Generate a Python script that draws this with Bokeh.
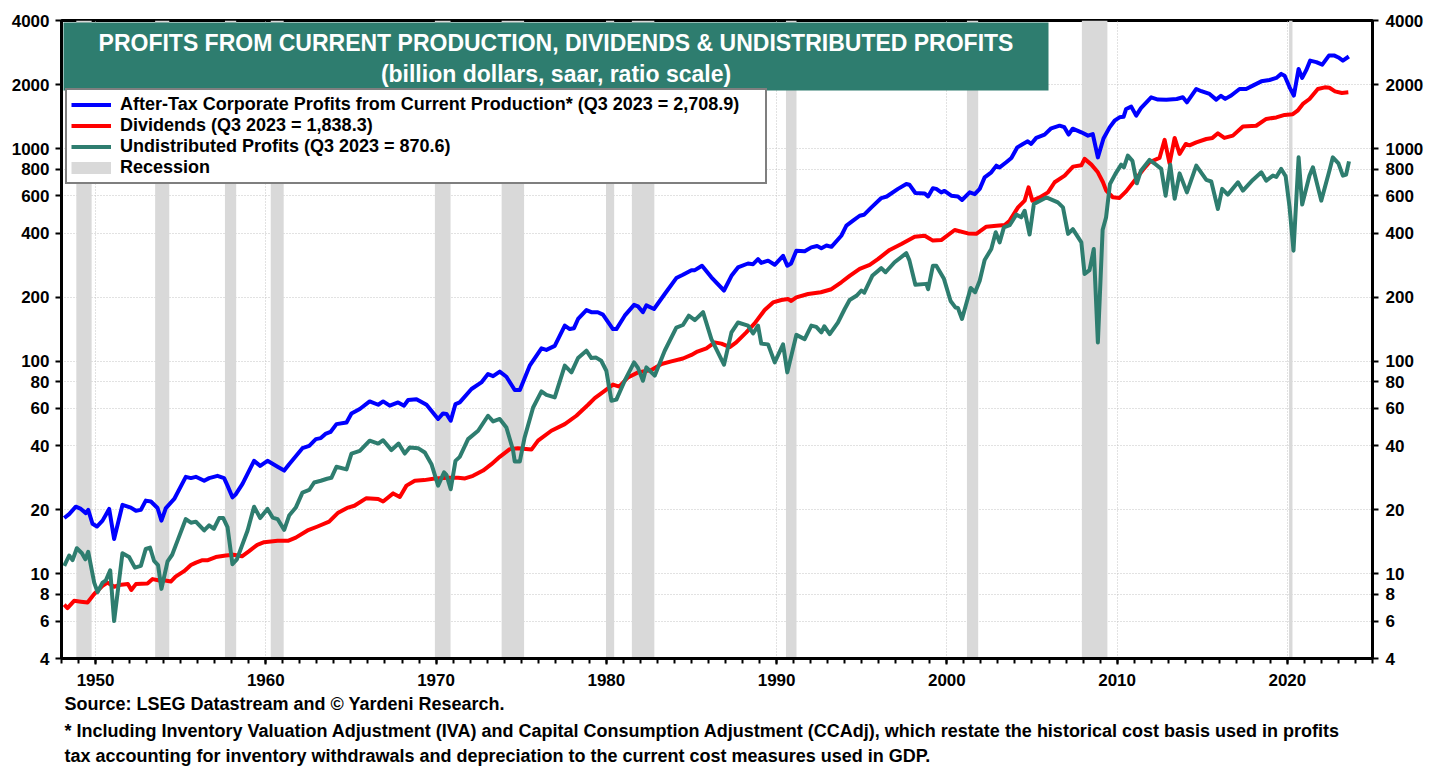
from bokeh.plotting import figure
from bokeh.models import (Range1d, LogAxis, FixedTicker, NumeralTickFormatter, Legend,
                          LegendItem, BoxAnnotation, Label, Title)
from bokeh.embed import file_html
from bokeh.resources import INLINE

# ---------------- data ----------------
profits_x = [1948.16, 1948.45, 1948.84, 1949.14, 1949.43, 1949.57, 1949.82, 1950.08, 1950.41, 1950.80,
             1951.09, 1951.58, 1952.07, 1952.37, 1952.66, 1952.95, 1953.25, 1953.64, 1953.87, 1954.13,
             1954.62, 1955.30, 1955.60, 1955.89, 1956.38, 1956.67, 1957.16, 1957.55, 1957.75, 1958.04,
             1958.24, 1958.63, 1959.31, 1959.67, 1960.10, 1960.69, 1961.08, 1961.37, 1962.15, 1962.55,
             1962.94, 1963.23, 1963.50, 1963.80, 1964.15, 1964.74, 1965.03, 1965.52, 1966.10, 1966.60,
             1966.89, 1967.28, 1967.77, 1968.12, 1968.36, 1968.85, 1969.44, 1970.12, 1970.41, 1970.61,
             1970.86, 1971.14, 1971.39, 1972.08, 1972.66, 1973.05, 1973.35, 1973.74, 1974.13, 1974.62,
             1974.92, 1975.50, 1976.19, 1976.48, 1976.97, 1977.56, 1977.85, 1978.10, 1978.34, 1978.83,
             1979.12, 1979.50, 1979.80, 1980.39, 1980.59, 1981.08, 1981.63, 1981.86, 1982.15, 1982.35,
             1982.80, 1983.43, 1984.11, 1984.50, 1985.00, 1985.20, 1985.62, 1986.17, 1986.91, 1987.35,
             1987.73, 1988.32, 1988.62, 1988.91, 1989.10, 1989.50, 1989.89, 1990.38, 1990.63, 1990.85,
             1991.16, 1991.65, 1992.04, 1992.38, 1992.63, 1992.93, 1993.22, 1993.80, 1994.10, 1994.49,
             1994.88, 1995.13, 1995.57, 1996.15, 1996.47, 1997.13, 1997.62, 1997.80, 1998.15, 1998.70,
             1998.90, 1999.18, 1999.38, 1999.67, 1999.86, 2000.26, 2000.65, 2000.89, 2001.34, 2001.64,
             2001.93, 2002.22, 2002.61, 2002.91, 2003.10, 2003.49, 2003.79, 2004.14, 2004.47, 2004.75,
             2004.95, 2005.25, 2005.74, 2006.13, 2006.62, 2006.90, 2007.15, 2007.39, 2007.90, 2008.29,
             2008.57, 2008.87, 2009.20, 2009.56, 2009.85, 2010.14, 2010.38, 2010.53, 2010.83, 2011.12,
             2011.40, 2012.00, 2012.40, 2012.89, 2013.50, 2013.86, 2014.10, 2014.65, 2014.95, 2015.43,
             2015.82, 2016.10, 2016.35, 2016.70, 2017.19, 2017.58, 2017.97, 2018.47, 2018.95, 2019.35,
             2019.64, 2019.84, 2020.13, 2020.38, 2020.66, 2020.87, 2021.10, 2021.34, 2021.70, 2022.05,
             2022.44, 2022.77, 2023.00, 2023.26, 2023.61]
profits_y = [18.3, 19.1, 20.7, 20.2, 19.3, 20.0, 17.2, 16.7, 17.8, 20.2,
             14.6, 21.1, 20.5, 19.8, 20.0, 22.1, 21.9, 20.4, 17.8, 20.4,
             22.5, 28.6, 28.2, 28.6, 27.4, 28.2, 28.9, 28.2, 26.0, 22.9,
             23.7, 26.5, 34.0, 32.2, 34.0, 31.9, 30.6, 32.8, 39.0, 40.0,
             43.0, 43.5, 45.5, 46.5, 50.6, 51.5, 56.8, 59.6, 64.7, 62.4,
             64.7, 61.8, 64.0, 61.8, 65.7, 66.3, 62.4, 53.5, 56.8, 56.5,
             52.5, 62.9, 64.0, 74.0, 79.5, 87.0, 85.0, 89.3, 84.5, 73.2,
             73.2, 95.3, 115, 113, 118, 147, 141.6, 143, 158, 174,
             170, 170, 165.5, 141.6, 141.6, 163.7, 184, 181, 170, 183,
             176, 207, 246, 255, 268, 268, 281, 248, 215, 252,
             276, 288, 286, 302, 290, 297, 284, 313, 281, 288,
             331, 329, 343, 348, 340, 350, 345, 389, 434, 458,
             483, 488, 529, 585, 595, 646, 681, 676, 618, 615,
             595, 650, 646, 622, 632, 600, 595, 573, 622, 610,
             646, 732, 773, 831, 815, 862, 903, 1013, 1051, 1081,
             1051, 1122, 1163, 1245, 1281, 1260, 1163, 1240, 1192, 1150,
             1170, 909, 1115, 1258, 1352, 1402, 1410, 1535, 1574, 1428,
             1550, 1742, 1700, 1698, 1710, 1742, 1650, 1906, 1860, 1806,
             1698, 1770, 1712, 1775, 1906, 1906, 1976, 2070, 2100, 2148,
             2244, 2200, 1940, 1774, 2368, 2148, 2330, 2590, 2550, 2481,
             2735, 2735, 2680, 2590, 2708.9]

dividends_x = [1948.16, 1948.35, 1948.74, 1949.14, 1949.53, 1949.92, 1950.41, 1950.70, 1951.09, 1951.50,
               1951.90, 1952.10, 1952.37, 1953.05, 1953.35, 1953.75, 1954.10, 1954.42, 1954.70, 1955.20,
               1955.60, 1955.90, 1956.28, 1956.60, 1957.06, 1957.65, 1958.10, 1958.60, 1959.02, 1959.50,
               1959.90, 1960.69, 1961.30, 1961.76, 1962.45, 1963.04, 1963.72, 1964.25, 1964.83, 1965.20,
               1965.91, 1966.60, 1966.89, 1967.48, 1967.87, 1968.26, 1968.75, 1969.30, 1969.92, 1970.70,
               1971.29, 1971.70, 1972.17, 1972.76, 1973.25, 1973.74, 1974.33, 1974.80, 1975.60, 1975.99,
               1976.77, 1977.56, 1978.24, 1978.93, 1979.32, 1979.90, 1980.39, 1980.76, 1981.27, 1981.86,
               1982.65, 1983.24, 1983.82, 1984.50, 1985.00, 1985.35, 1985.88, 1986.36, 1986.76, 1987.25,
               1987.63, 1988.22, 1988.71, 1989.30, 1989.79, 1990.28, 1990.67, 1990.86, 1991.16, 1991.85,
               1992.60, 1993.22, 1993.80, 1994.29, 1994.88, 1995.47, 1995.95, 1996.64, 1997.33, 1998.11,
               1998.70, 1999.18, 1999.67, 2000.46, 2001.24, 2001.73, 2002.32, 2002.91, 2003.40, 2003.69,
               2004.18, 2004.57, 2004.80, 2005.02, 2005.45, 2005.94, 2006.33, 2006.92, 2007.41, 2007.90,
               2008.09, 2008.49, 2008.87, 2009.17, 2009.36, 2009.75, 2010.14, 2010.53, 2011.02, 2011.51,
               2011.90, 2012.49, 2012.79, 2013.08, 2013.38, 2013.67, 2014.03, 2014.25, 2014.65, 2015.24,
               2015.60, 2015.92, 2016.30, 2016.80, 2017.39, 2018.17, 2018.76, 2019.35, 2019.84, 2020.32,
               2020.60, 2020.91, 2021.30, 2021.79, 2022.20, 2022.47, 2022.80, 2023.20, 2023.58]
dividends_y = [7.16, 6.9, 7.47, 7.4, 7.34, 8.04, 8.79, 9.1, 8.7, 8.9,
               8.95, 8.4, 8.95, 9.0, 9.45, 9.3, 9.3, 9.2, 9.7, 10.3,
               11.0, 11.3, 11.6, 11.6, 12.0, 12.2, 12.3, 12.1, 12.8, 13.7,
               14.1, 14.3, 14.3, 14.8, 16.0, 16.7, 17.6, 19.4, 20.5, 20.9,
               22.7, 22.5, 21.9, 23.9, 23.0, 26.0, 27.4, 27.6, 28.1, 28.3,
               28.3, 28.1, 28.9, 30.6, 32.8, 35.5, 38.6, 39.0, 38.4, 42.3,
               47.1, 50.6, 55.4, 62.4, 67.1, 72.6, 77.6, 76.0, 83.9, 88.6,
               90.9, 97, 99.8, 103, 107, 111, 115, 122.6, 121, 116.5,
               122.6, 136.6, 150.6, 174, 189, 194, 196, 192, 199.6, 207,
               211, 218, 235, 252, 272, 284, 302, 333.6, 355.7, 385,
               389, 369, 371, 414, 399, 397, 429, 433, 437, 458,
               529, 569, 657, 569, 589, 622, 694, 746, 822, 834,
               894, 840, 773, 694, 634, 590, 586, 629, 706, 793,
               862, 903, 1098, 851, 1122, 943, 1051, 1035, 1069, 1109,
               1122, 1179, 1122, 1150, 1268, 1280, 1378, 1400, 1439, 1450,
               1507, 1621, 1710, 1906, 1940, 1930, 1858, 1825, 1838.3]

undistributed_x = [1948.16, 1948.45, 1948.65, 1948.90, 1949.20, 1949.40, 1949.57, 1949.92, 1950.12, 1950.41,
                   1950.60, 1950.86, 1951.09, 1951.58, 1951.97, 1952.31, 1952.66, 1952.95, 1953.20, 1953.44,
                   1953.67, 1953.87, 1954.23, 1954.50, 1954.81, 1955.30, 1955.60, 1955.89, 1956.38, 1956.67,
                   1956.95, 1957.26, 1957.50, 1957.75, 1958.04, 1958.30, 1958.93, 1959.31, 1959.67, 1960.10,
                   1960.40, 1960.69, 1961.08, 1961.37, 1961.76, 1962.15, 1962.55, 1962.84, 1963.23, 1963.60,
                   1963.85, 1964.15, 1964.74, 1965.03, 1965.52, 1966.10, 1966.60, 1966.89, 1967.38, 1967.80,
                   1968.16, 1968.45, 1968.94, 1969.34, 1969.73, 1970.12, 1970.47, 1970.61, 1970.86, 1971.14,
                   1971.39, 1971.88, 1972.47, 1973.05, 1973.35, 1973.74, 1974.13, 1974.52, 1974.62, 1974.92,
                   1975.20, 1975.70, 1976.19, 1976.48, 1976.97, 1977.56, 1977.95, 1978.34, 1978.83, 1979.12,
                   1979.40, 1979.70, 1980.00, 1980.30, 1980.59, 1981.08, 1981.63, 1981.86, 1982.15, 1982.35,
                   1982.84, 1983.43, 1984.11, 1984.50, 1984.84, 1985.20, 1985.68, 1986.17, 1986.91, 1987.35,
                   1987.73, 1988.32, 1988.62, 1988.91, 1989.10, 1989.50, 1989.89, 1990.38, 1990.63, 1991.16,
                   1991.65, 1992.04, 1992.33, 1992.63, 1992.80, 1993.12, 1993.60, 1994.00, 1994.29, 1994.69,
                   1994.98, 1995.15, 1995.62, 1996.15, 1996.40, 1996.93, 1997.62, 1997.80, 1998.15, 1998.80,
                   1998.90, 1999.18, 1999.38, 1999.83, 2000.22, 2000.50, 2000.65, 2000.89, 2001.40, 2001.66,
                   2001.93, 2002.22, 2002.61, 2002.87, 2003.10, 2003.35, 2003.69, 2004.08, 2004.37, 2004.57,
                   2004.86, 2005.11, 2005.84, 2006.52, 2006.82, 2007.12, 2007.40, 2007.90, 2008.09, 2008.38,
                   2008.63, 2008.87, 2009.15, 2009.35, 2009.58, 2009.90, 2010.24, 2010.40, 2010.63, 2010.90,
                   2011.16, 2011.40, 2011.90, 2012.20, 2012.59, 2012.85, 2013.12, 2013.38, 2013.67, 2014.10,
                   2014.65, 2015.24, 2015.53, 2015.92, 2016.17, 2016.50, 2017.10, 2017.39, 2017.97, 2018.47,
                   2018.76, 2019.15, 2019.35, 2019.64, 2019.90, 2020.13, 2020.36, 2020.66, 2020.87, 2021.30,
                   2021.50, 2021.99, 2022.48, 2022.67, 2023.00, 2023.26, 2023.45, 2023.62]
undistributed_y = [10.9, 12.2, 11.6, 13.2, 12.5, 11.7, 12.7, 9.1, 8.2, 9.1,
                   9.3, 10.4, 6.0, 12.5, 12.0, 10.7, 10.9, 13.1, 13.3, 11.5,
                   11.0, 8.5, 11.45, 12.3, 14.3, 18.1, 17.4, 17.6, 16.0, 16.9,
                   16.3, 18.3, 18.3, 16.6, 11.1, 11.7, 16.0, 20.7, 18.3, 20.2,
                   18.4, 18.1, 16.1, 18.8, 20.5, 24.1, 24.8, 26.9, 27.4, 28.0,
                   28.3, 31.9, 31.0, 36.8, 37.9, 42.3, 41.0, 42.5, 38.2, 41.0,
                   36.8, 39.3, 39.0, 37.2, 32.8, 26.0, 30.0, 29.2, 25.0, 34.0,
                   35.5, 43.0, 47.1, 55.4, 52.1, 53.5, 48.8, 38.2, 33.8, 33.8,
                   43.8, 60.6, 72.1, 69.5, 67.6, 95.3, 88.6, 103.5, 112, 103.5,
                   104, 100.5, 90.2, 65.2, 66, 80.9, 98.7, 93, 80.9, 93.5,
                   85.5, 112, 144, 148, 163.7, 156, 170, 127, 96.3, 136.6,
                   152, 147, 135, 147, 121, 120, 98.7, 120, 88.6, 133,
                   127, 147, 145, 136.6, 146, 134, 152, 176, 194, 203,
                   215, 210, 252, 274, 262, 292, 322, 298, 229, 231,
                   218, 281, 281, 244, 192, 179, 178, 158, 221, 211,
                   239, 299, 337, 404, 362, 426, 436, 489, 475, 510,
                   394, 548, 589, 558, 529, 397, 418, 362, 257, 268,
                   337, 122.6, 415, 474, 681, 760, 840, 815, 926, 875,
                   686, 787, 884, 850, 802, 600, 840, 580, 764, 622,
                   831, 712, 700, 520, 646, 607, 694, 634, 712, 773,
                   706, 746, 735, 802, 741, 529, 331, 909, 545, 746,
                   816, 569, 793, 909, 851, 746, 755, 870.6]

recession_start = [1948.87, 1953.50, 1957.60, 1960.29, 1969.93, 1973.85, 1979.98, 1981.50, 1990.55, 2001.18, 2007.93, 2020.10]
recession_end = [1949.77, 1954.33, 1958.26, 1961.05, 1970.85, 1975.17, 1980.46, 1982.82, 1991.17, 2001.84, 2009.43, 2020.30]

year_ticks = [1950, 1960, 1970, 1980, 1990, 2000, 2010, 2020]
value_ticks = [4, 6, 8, 10, 20, 40, 60, 80, 100, 200, 400, 600, 800, 1000, 2000, 4000]

series_labels = ["After-Tax Corporate Profits from Current Production* (Q3 2023 = 2,708.9)",
                 "Dividends (Q3 2023 = 1,838.3)",
                 "Undistributed Profits (Q3 2023 = 870.6)",
                 "Recession"]
title_lines = ["PROFITS FROM CURRENT PRODUCTION, DIVIDENDS & UNDISTRIBUTED PROFITS",
               "(billion dollars, saar, ratio scale)"]
footer_lines = ["Source: LSEG Datastream and \u00a9 Yardeni Research.",
                "* Including Inventory Valuation Adjustment (IVA) and Capital Consumption Adjustment (CCAdj), which restate the historical cost basis used in profits",
                "tax accounting for inventory withdrawals and depreciation to the current cost measures used in GDP."]

# ---------------- styling ----------------
FONT = "Liberation Sans"
BLUE = "#0000ff"
RED = "#ff0000"
TEAL = "#2e7d6f"
GRAY = "#d9d9d9"

X0, X1 = 1948.0, 2025.0
Y0, Y1 = 4, 4000
# frame position on the page (pixels); the page body has no margin
FL, FR, FT, FB = 61, 1372, 20, 658
W, H = 1440, 766


def xd(px):
    return X0 + (px - FL) / (FR - FL) * (X1 - X0)


def yd(py):
    return Y0 * (Y1 / Y0) ** ((FB - py) / (FB - FT))


p = figure(width=W, height=H, x_range=Range1d(X0, X1), y_range=Range1d(Y0, Y1),
           y_axis_type="log", output_backend="svg", toolbar_location=None,
           min_border_left=FL, min_border_right=W - FR,
           min_border_top=FT, min_border_bottom=H - FB)
p.background_fill_color = "white"
p.border_fill_color = "white"
p.outline_line_color = "black"
p.outline_line_width = 3

# recession shading
r_bands = p.quad(left=recession_start, right=recession_end, bottom=Y0, top=Y1,
                 fill_color=GRAY, line_color=None)

r_div = p.line(dividends_x, dividends_y, line_color=RED, line_width=4, line_join="round")
r_und = p.line(undistributed_x, undistributed_y, line_color=TEAL, line_width=4, line_join="round")
r_pro = p.line(profits_x, profits_y, line_color=BLUE, line_width=4, line_join="round")
# legend key for the recession shading (no visible data)
r_rec = p.line(x=[float("nan")], y=[float("nan")], line_color=GRAY, line_width=12, line_cap="butt")

# grids
for g in (p.xgrid, p.ygrid):
    g.grid_line_color = "#c4c4c4"
    g.grid_line_dash = "1 2"
    g.grid_line_width = 1

# axes
minor_years = list(range(1948, 2026))
p.xaxis.ticker = FixedTicker(ticks=year_ticks, minor_ticks=minor_years)
p.yaxis.ticker = FixedTicker(ticks=value_ticks)
p.yaxis.formatter = NumeralTickFormatter(format="0")

right_axis = LogAxis(ticker=FixedTicker(ticks=value_ticks), formatter=NumeralTickFormatter(format="0"))
p.add_layout(right_axis, "right")

for ax in [p.xaxis[0], p.yaxis[0], right_axis]:
    ax.axis_line_width = 3
    ax.axis_line_color = "black"
    ax.major_tick_line_width = 2
    ax.major_tick_line_color = "black"
    ax.major_tick_in = 0
    ax.major_tick_out = 6
    ax.minor_tick_in = 0
    ax.minor_tick_out = 5
    ax.minor_tick_line_width = 2
    ax.minor_tick_line_color = "black"
    ax.major_label_text_font = FONT
    ax.major_label_text_font_style = "bold"
    ax.major_label_text_font_size = "17px"
    ax.major_label_text_color = "black"
p.yaxis[0].minor_tick_line_color = None
right_axis.minor_tick_line_color = None
p.yaxis[0].major_label_standoff = 6
right_axis.major_label_standoff = 7
p.xaxis[0].major_label_standoff = 9

# title box
p.add_layout(BoxAnnotation(left=xd(63), right=xd(1048), bottom=yd(90), top=yd(22),
                           fill_color=TEAL, fill_alpha=1.0, line_color=None, level="overlay"))
p.add_layout(Label(x=xd(555.5), y=yd(42), text=title_lines[0], text_align="center",
                   text_baseline="middle", text_color="white", text_font=FONT,
                   text_font_style="bold", text_font_size="23px", level="overlay"))
p.add_layout(Label(x=xd(555.5), y=yd(73), text=title_lines[1], text_align="center",
                   text_baseline="middle", text_color="white", text_font=FONT,
                   text_font_style="bold", text_font_size="23px", level="overlay"))

# legend
legend = Legend(items=[LegendItem(label=series_labels[0], renderers=[r_pro]),
                       LegendItem(label=series_labels[1], renderers=[r_div]),
                       LegendItem(label=series_labels[2], renderers=[r_und]),
                       LegendItem(label=series_labels[3], renderers=[r_rec])],
                location=(4, FB - 92 - 92), orientation="vertical",
                glyph_width=40, glyph_height=21, label_height=21, label_width=641,
                label_standoff=9, padding=4, spacing=0, margin=0,
                border_line_color="black", border_line_width=2,
                background_fill_color="white", background_fill_alpha=1.0,
                label_text_font=FONT, label_text_font_style="bold",
                label_text_font_size="18px", label_text_color="black")
p.add_layout(legend)

# footer (stacked below the x axis)
for txt, so in zip(footer_lines, [7, 3, 2]):
    p.add_layout(Title(text=txt, align="left", offset=3, standoff=so, text_font=FONT,
                       text_font_style="bold", text_font_size="18px", text_color="black"),
                 "below")

open("out.html", "w").write(file_html(p, INLINE))
